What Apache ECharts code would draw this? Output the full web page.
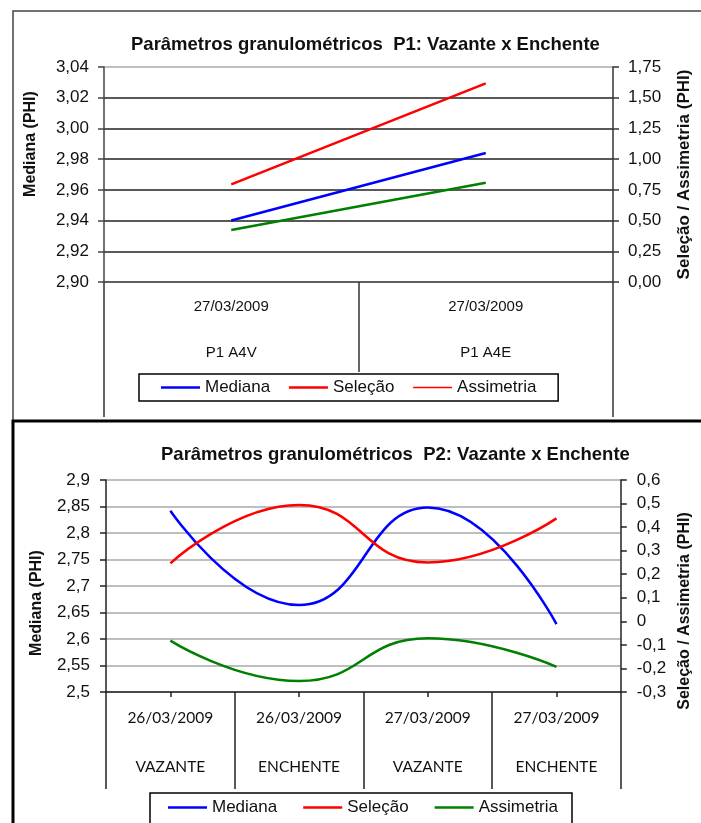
<!DOCTYPE html>
<html>
<head>
<meta charset="utf-8">
<script src="https://cdn.jsdelivr.net/npm/echarts@6/dist/echarts.min.js"></script>
<style>
html,body{margin:0;padding:0;background:#fff;}
#c{width:701px;height:823px;}
</style>
</head>
<body>
<div id="c"></div>
<script>
// ---- Chart 1 (P1) data ----
const p1Dates = ['27/03/2009', '27/03/2009'];
const p1Samples = ['P1 A4V', 'P1 A4E'];
const p1Mediana = [2.940, 2.984];
const p1Selecao = [0.795, 1.617];
const p1Assimetria = [0.423, 0.808];
const p1LeftTicks = ['2,90', '2,92', '2,94', '2,96', '2,98', '3,00', '3,02', '3,04'];
const p1RightTicks = ['0,00', '0,25', '0,50', '0,75', '1,00', '1,25', '1,50', '1,75'];

// ---- Chart 2 (P2) data ----
const p2Dates = ['26/03/2009', '26/03/2009', '27/03/2009', '27/03/2009'];
const p2Phases = ['VAZANTE', 'ENCHENTE', 'VAZANTE', 'ENCHENTE'];
const p2Mediana = [2.842, 2.664, 2.848, 2.628];
const p2Selecao = [0.246, 0.494, 0.250, 0.437];
const p2Assimetria = [-0.082, -0.253, -0.072, -0.193];
const p2LeftTicks = ['2,5', '2,55', '2,6', '2,65', '2,7', '2,75', '2,8', '2,85', '2,9'];
const p2RightTicks = ['-0,3', '-0,2', '-0,1', '0', '0,1', '0,2', '0,3', '0,4', '0,5', '0,6'];

const p1Cats = p1Dates.map((d, i) => d + '\n\n' + p1Samples[i]);
const p2Cats = p2Dates.map((d, i) => d + '\n\n' + p2Phases[i]);

const TXT = '#111';
const FONT = 'Liberation Sans, Arial, sans-serif';
const BLUE = '#0000ff', RED = '#ff0000', GREEN = '#008000';
const THICK = 'path://M0,0 L39,0 L39,2.5 L0,2.5 Z';
const THIN = 'path://M0,0 L39,0 L39,1.3 L0,1.3 Z';
const icon = (c) => ({color: c, borderColor: c, borderWidth: 0});

const chart = echarts.init(document.getElementById('c'), null, {renderer: 'canvas'});

const option = {
  animation: false,
  backgroundColor: '#fff',
  textStyle: {fontFamily: FONT, color: TXT},
  title: [
    {text: 'Parâmetros granulométricos  P1: Vazante x Enchente', left: 126, top: 30,
     textStyle: {fontFamily: FONT, fontSize: 18.5, fontWeight: 'bold', color: TXT}},
    {text: 'Parâmetros granulométricos  P2: Vazante x Enchente', left: 156, top: 440,
     textStyle: {fontFamily: FONT, fontSize: 18.5, fontWeight: 'bold', color: TXT}}
  ],
  legend: [
    {
      left: 139, top: 374, orient: 'horizontal',
      padding: [5, 17, 5, 22], itemGap: 14, itemWidth: 39, itemHeight: 14,
      borderColor: '#000', borderWidth: 1.5,
      textStyle: {fontFamily: FONT, fontSize: 17, color: TXT},
      data: [
        {name: 'Mediana ', icon: THICK, itemStyle: icon(BLUE)},
        {name: 'Seleção ', icon: THICK, itemStyle: icon(RED)},
        {name: 'Assimetria ', icon: THIN, itemStyle: icon(RED)}
      ]
    },
    {
      left: 150, top: 793, orient: 'horizontal',
      padding: [6, 14, 12, 18], itemGap: 26, itemWidth: 39, itemHeight: 14,
      borderColor: '#000', borderWidth: 1.5,
      textStyle: {fontFamily: FONT, fontSize: 17, color: TXT},
      data: [
        {name: 'Mediana', icon: THICK, itemStyle: icon(BLUE)},
        {name: 'Seleção', icon: THICK, itemStyle: icon(RED)},
        {name: 'Assimetria', icon: THICK, itemStyle: icon(GREEN)}
      ]
    }
  ],
  grid: [
    {left: 104, right: 79, top: 67, height: 215, containLabel: false},
    {left: 106, right: 74, top: 480, height: 212, containLabel: false}
  ],
  xAxis: [
    {
      type: 'category', gridIndex: 0, data: p1Cats, position: 'bottom', boundaryGap: true,
      axisLine: {show: true, onZero: false, lineStyle: {color: '#555', width: 1.5}},
      axisTick: {show: true, length: 90, lineStyle: {color: '#333', width: 1.5}},
      axisLabel: {fontFamily: FONT, fontSize: 15, color: TXT, lineHeight: 23, margin: 13, interval: 0},
      splitLine: {show: false}
    },
    {
      type: 'category', gridIndex: 0, data: p1Cats, position: 'bottom', boundaryGap: true,
      axisLine: {show: false, onZero: false},
      axisTick: {show: true, length: 135, interval: function (i) { return i === 0; }, lineStyle: {color: '#333', width: 1.5}},
      axisLabel: {show: false},
      splitLine: {show: false}
    },
    {
      type: 'category', gridIndex: 1, data: p2Cats, position: 'bottom', boundaryGap: true,
      axisLine: {show: true, onZero: false, lineStyle: {color: '#222', width: 1.5}},
      axisTick: {show: true, alignWithLabel: true, length: 5, lineStyle: {color: '#222', width: 1.5}},
      axisLabel: {fontFamily: 'Lato, sans-serif', fontSize: 15.5, color: TXT, lineHeight: 24.5, margin: 14, interval: 0},
      splitLine: {show: false}
    },
    {
      type: 'category', gridIndex: 1, data: p2Cats, position: 'bottom', boundaryGap: true,
      axisLine: {show: false, onZero: false},
      axisTick: {show: true, length: 97, interval: 0, lineStyle: {color: '#222', width: 1.5}},
      axisLabel: {show: false},
      splitLine: {show: false}
    }
  ],
  yAxis: [
    {
      type: 'value', gridIndex: 0, position: 'left', min: 2.90, max: 3.04, interval: 0.02,
      name: 'Mediana (PHI)', nameLocation: 'middle', nameGap: 65, nameRotate: 90,
      nameTextStyle: {fontFamily: FONT, fontSize: 16, fontWeight: 'bold', color: TXT, padding: [0, 0, 0, 61]},
      axisLine: {show: true, lineStyle: {color: '#444', width: 1.5}},
      axisTick: {show: true, inside: false, length: 6, lineStyle: {color: '#444', width: 1.5}},
      axisLabel: {fontFamily: FONT, fontSize: 17, color: TXT, margin: 15,
                  formatter: (v, i) => p1LeftTicks[i]},
      splitLine: {show: true, lineStyle: {color: ['#555', '#222', '#222', '#222', '#222', '#222', '#222', '#aaa'], width: 1.5}}
    },
    {
      type: 'value', gridIndex: 0, position: 'right', min: 0, max: 1.75, interval: 0.25,
      name: 'Seleção / Assimetria (PHI)', nameLocation: 'middle', nameGap: 63, nameRotate: 90,
      nameTextStyle: {fontFamily: FONT, fontSize: 17, fontWeight: 'bold', color: TXT},
      axisLine: {show: true, lineStyle: {color: '#333', width: 1.5}},
      axisTick: {show: true, inside: false, length: 6, lineStyle: {color: '#333', width: 1.5}},
      axisLabel: {fontFamily: FONT, fontSize: 17, color: TXT, margin: 15,
                  formatter: (v, i) => p1RightTicks[i]},
      splitLine: {show: false}
    },
    {
      type: 'value', gridIndex: 1, position: 'left', min: 2.5, max: 2.9, interval: 0.05,
      name: 'Mediana (PHI)', nameLocation: 'middle', nameGap: 61, nameRotate: 90,
      nameTextStyle: {fontFamily: FONT, fontSize: 16, fontWeight: 'bold', color: TXT, padding: [0, 34, 0, 0]},
      axisLine: {show: true, lineStyle: {color: '#222', width: 1.5}},
      axisTick: {show: true, inside: false, length: 6, lineStyle: {color: '#222', width: 1.5}},
      axisLabel: {fontFamily: FONT, fontSize: 17, color: TXT, margin: 16,
                  formatter: (v, i) => p2LeftTicks[i]},
      splitLine: {show: true, lineStyle: {color: '#a8a8a8', width: 1.5}}
    },
    {
      type: 'value', gridIndex: 1, position: 'right', min: -0.3, max: 0.6, interval: 0.1,
      name: 'Seleção / Assimetria (PHI)', nameLocation: 'middle', nameGap: 51, nameRotate: 90,
      nameTextStyle: {fontFamily: FONT, fontSize: 16, fontWeight: 'bold', color: TXT, padding: [0, 50, 0, 0]},
      axisLine: {show: true, lineStyle: {color: '#222', width: 1.5}},
      axisTick: {show: true, inside: false, length: 6, lineStyle: {color: '#222', width: 1.5}},
      axisLabel: {fontFamily: FONT, fontSize: 17, color: TXT, margin: 16,
                  formatter: (v, i) => p2RightTicks[i]},
      splitLine: {show: false}
    }
  ],
  series: [
    {name: 'Mediana ', type: 'line', xAxisIndex: 0, yAxisIndex: 0, data: p1Mediana,
     symbol: 'none', lineStyle: {color: BLUE, width: 2.5}, itemStyle: {color: BLUE}},
    {name: 'Seleção ', type: 'line', xAxisIndex: 0, yAxisIndex: 1, data: p1Selecao,
     symbol: 'none', lineStyle: {color: RED, width: 2.5}, itemStyle: {color: RED}},
    {name: 'Assimetria ', type: 'line', xAxisIndex: 0, yAxisIndex: 1, data: p1Assimetria,
     symbol: 'none', lineStyle: {color: GREEN, width: 2.5}, itemStyle: {color: RED}},
    {name: 'Mediana', type: 'line', xAxisIndex: 2, yAxisIndex: 2, data: p2Mediana, smooth: true,
     symbol: 'none', lineStyle: {color: BLUE, width: 2.5}, itemStyle: {color: BLUE}},
    {name: 'Seleção', type: 'line', xAxisIndex: 2, yAxisIndex: 3, data: p2Selecao, smooth: true,
     symbol: 'none', lineStyle: {color: RED, width: 2.5}, itemStyle: {color: RED}},
    {name: 'Assimetria', type: 'line', xAxisIndex: 2, yAxisIndex: 3, data: p2Assimetria, smooth: true,
     symbol: 'none', lineStyle: {color: GREEN, width: 2.5}, itemStyle: {color: GREEN}}
  ],
  graphic: [
    {type: 'rect', z: -1, shape: {x: 13, y: 11, width: 720, height: 410},
     style: {fill: 'none', stroke: '#444', lineWidth: 1.5}},
    {type: 'rect', z: -1, shape: {x: 13, y: 421, width: 720, height: 440},
     style: {fill: 'none', stroke: '#000', lineWidth: 3}}
  ]
};
chart.setOption(option);
</script>
</body>
</html>
